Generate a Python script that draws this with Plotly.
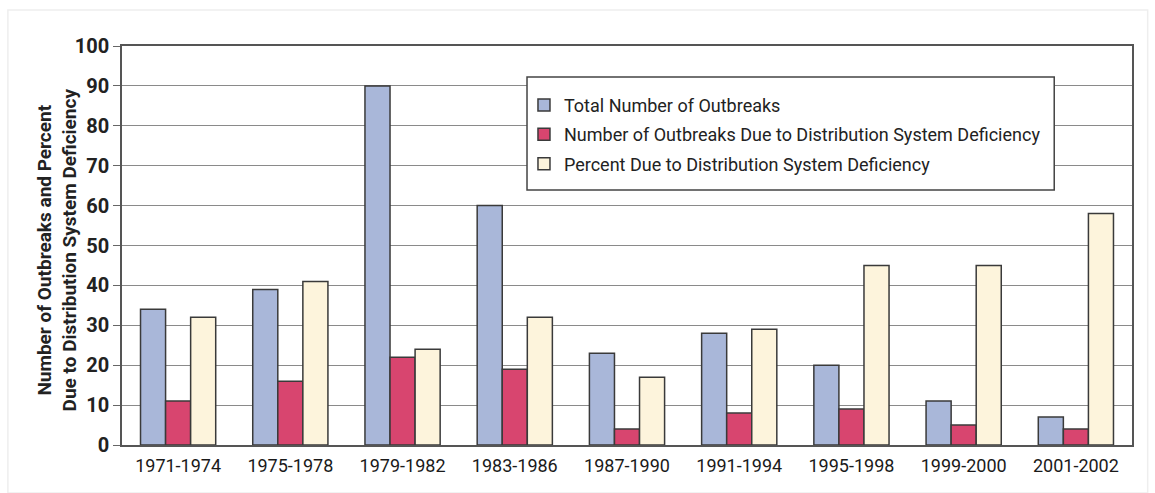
import plotly.graph_objects as go

periods = ["1971-1974", "1975-1978", "1979-1982", "1983-1986", "1987-1990",
           "1991-1994", "1995-1998", "1999-2000", "2001-2002"]
total_outbreaks = [34, 39, 90, 60, 23, 28, 20, 11, 7]
distribution_outbreaks = [11, 16, 22, 19, 4, 8, 9, 5, 4]
percent_distribution = [32, 41, 24, 32, 17, 29, 45, 45, 58]

series_names = [
    "Total Number of Outbreaks",
    "Number of Outbreaks Due to Distribution System Deficiency",
    "Percent Due to Distribution System Deficiency",
]
series_values = [total_outbreaks, distribution_outbreaks, percent_distribution]
series_colors = ["#a9b7d9", "#d8456f", "#fdf4dc"]

FONT = "Roboto, Liberation Sans, sans-serif"

fig = go.Figure()
for i, (name, vals, color) in enumerate(zip(series_names, series_values, series_colors)):
    fig.add_trace(go.Bar(
        x=periods, y=vals, name=name, legendgroup=f"g{i}",
        marker=dict(color=color, line=dict(color="#3a3a3a", width=1.5)),
    ))

fig.update_layout(
    width=1155, height=493,
    barmode="group", bargap=0.33, bargroupgap=0,
    paper_bgcolor="white", plot_bgcolor="white",
    margin=dict(l=122, r=23, t=46, b=48),
    font=dict(family=FONT, color="#222222"),
    legend=dict(
        x=0.398, y=0.898, xanchor="left", yanchor="top",
        bgcolor="rgba(0,0,0,0)", borderwidth=0,
        font=dict(family=FONT, size=18, color="#222222"),
        itemwidth=30, tracegroupgap=3,
    ),
    xaxis=dict(
        showline=True, linecolor="#555555", linewidth=1.5, mirror=True,
        ticks="", tickfont=dict(family=FONT, size=18, color="#1a1a1a"),
        ticklabelstandoff=4,
    ),
    yaxis=dict(
        range=[0, 100], dtick=10,
        showline=True, linecolor="#555555", linewidth=1.5, mirror=True,
        showgrid=True, gridcolor="#8a8a8a", gridwidth=1.2,
        ticks="outside", ticklen=7, tickcolor="#666666",
        tickfont=dict(family=FONT, size=20, color="#222222", weight="bold"),
    ),
)

# y-axis title, placed beside the tick labels
fig.add_annotation(
    xref="paper", yref="paper", x=-0.0634, y=0.49,
    xanchor="center", yanchor="middle", textangle=-90, showarrow=False,
    text="<b>Number of Outbreaks and Percent<br>Due to Distribution System Deficiency</b>",
    font=dict(family=FONT, size=19, color="#222222"),
)

# legend frame
fig.add_shape(type="rect", xref="paper", yref="paper",
              x0=0.401, x1=0.923, y0=0.639, y1=0.922,
              line=dict(color="#444444", width=1.5), fillcolor="white", layer="above")

# faint outer frame around the figure
fig.add_shape(type="rect", xref="paper", yref="paper",
              x0=-0.113, x1=1.0155, y0=-0.12, y1=1.09,
              line=dict(color="#eeeeee", width=1.5), layer="below")

fig.write_html("out.html")
